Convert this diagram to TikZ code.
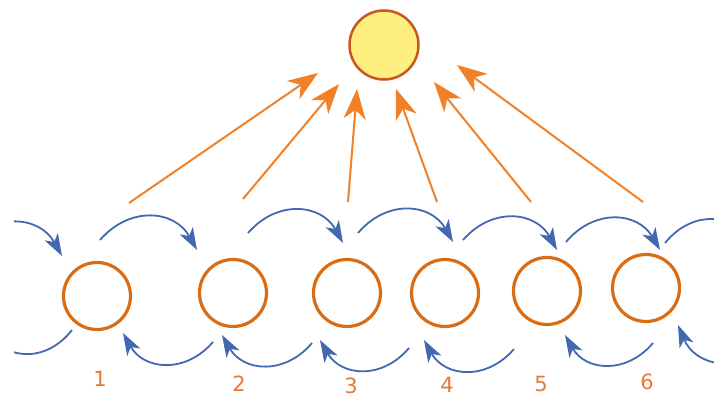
\documentclass[tikz,border=0pt]{standalone}
\usepackage{fontspec}
\newfontfamily\labelfont{DejaVu Sans}
\usetikzlibrary{arrows.meta}

\definecolor{ringorange}{RGB}{218,108,20}
\definecolor{sunfill}{RGB}{255,238,128}
\definecolor{sunedge}{RGB}{200,88,30}
\definecolor{rayorange}{RGB}{242,128,38}
\definecolor{flowblue}{RGB}{66,104,178}
\definecolor{numorange}{RGB}{232,120,50}

\tikzset{
  cell/.style={circle, draw=ringorange, line width=3.2pt, fill=white, minimum size=67pt, inner sep=0pt},
  sunball/.style={circle, draw=sunedge, line width=2.5pt, fill=sunfill, minimum size=69pt, inner sep=0pt},
  ray/.style={draw=rayorange, line width=2pt, -{Stealth[length=30pt,width=22pt,inset=9pt]}},
  flow/.style={draw=flowblue, line width=1.8pt, -{Stealth[length=22pt,width=15pt,inset=6pt]}},
  tail/.style={draw=flowblue, line width=1.8pt},
  num/.style={font=\labelfont\fontsize{21}{21}\selectfont, text=numorange}
}

\begin{document}
\begin{tikzpicture}[x=1pt,y=-1pt]
\useasboundingbox (0,0) rectangle (714,398);

% Soleil
\node[sunball] (sun) at (384,45) {};

% Cellules
\foreach \i/\x/\y in {1/97/296, 2/233/293, 3/347/293, 4/445/293, 5/547/291, 6/646/288}
  \node[cell] (c\i) at (\x,\y) {};

% Numeros
\foreach \i/\x/\y in {1/100/379, 2/239/384, 3/351/386, 4/447/385, 5/541/384, 6/647/382}
  \node[num] (n\i) at (\x,\y) {\i};

% Rayons
\foreach \i/\ax/\ay/\bx/\by in {1/129/203/318/73, 2/243/199/339/84, 3/348/202/357/89,
                               4/437/202/396/89, 5/531/202/434/82, 6/643/202/457/65} {
  \coordinate (ra\i) at (\ax,\ay);
  \coordinate (rb\i) at (\bx,\by);
  \draw[ray] (ra\i) -- (rb\i);
}

% Echanges
\begin{scope}
\clip (14,0) rectangle (714,398);
% en haut
\foreach \i/\ax/\ay/\bx/\by in {0/-35/246/62/256, 1/100/240/197/250, 2/248/233/343/243,
                               3/358/233/453/242, 4/463/240/557/250, 5/566/242/660/250} {
  \coordinate (ts\i) at (\ax,\ay);
  \coordinate (te\i) at (\bx,\by);
  \draw[flow] (ts\i) to[bend left=55, looseness=1.2] (te\i);
}
\coordinate (ts6) at (665,243);
\coordinate (te6) at (760,250);
\draw[tail] (ts6) to[bend left=55, looseness=1.2] (te6);
% en bas
\foreach \i/\ax/\ay/\bx/\by in {1/213/342/123/333, 2/312/343/222/335, 3/409/348/320/340,
                               4/514/349/424/340, 5/653/343/565/335, 6/770/345/678/325} {
  \coordinate (bs\i) at (\ax,\ay);
  \coordinate (be\i) at (\bx,\by);
  \draw[flow] (bs\i) to[bend left=55, looseness=1.2] (be\i);
}
\coordinate (bs0) at (72,330);
\coordinate (be0) at (-20,325);
\draw[tail] (bs0) to[bend left=55, looseness=1.2] (be0);
\end{scope}

\end{tikzpicture}
\end{document}
